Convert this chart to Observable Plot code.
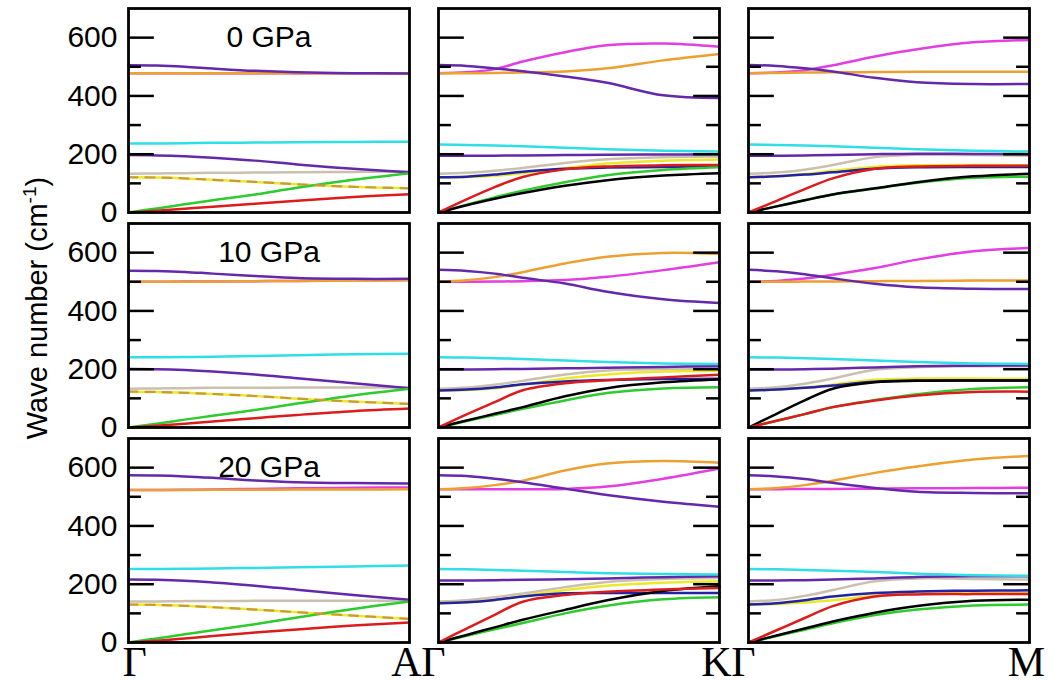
<!DOCTYPE html>
<html>
<head>
<meta charset="utf-8">
<script src="https://cdn.jsdelivr.net/npm/d3@7"></script>
<script src="https://cdn.jsdelivr.net/npm/@observablehq/plot@0.6"></script>
<style>
  body { margin: 0; background: #fff; }
  #chart svg { display: block; }
</style>
</head>
<body>
<div id="chart"></div>
<script>
// Reduced wave-vector positions along each path (0 = Γ, 1 = zone boundary)
const qx = [0, 0.1, 0.2, 0.3, 0.45, 0.6, 0.8, 1];

const pressures = ["0 GPa", "10 GPa", "20 GPa"];
const paths = ["ΓA", "ΓK", "ΓM"];
const pathStart = ["Γ", "Γ", "Γ"];
const pathEnd = ["A", "K", "M"];

// Drawing order: later branches are painted on top
const branchNames = ["tan", "yellow", "blue", "violetLow", "cyan", "magenta", "orange", "violetHigh", "green", "black", "red"];
const branchColors = ["#cbbfae", "#eaea2c", "#2222a2", "#6428aa", "#2fdfe6", "#e23ee2", "#eda032", "#6428aa", "#2ecb2e", "#000000", "#dc1c1c"];

const yTicksMajor = [200, 400, 600];
const yTicksMinor = [100, 300, 500];
const yTickLabels = [0, 200, 400, 600];

// ---- 0 GPa (cm^-1) ----
const GA_0 = {
  tan:        [133, 134, 135, 136, 137, 138, 139, 140],
  yellow:     [121, 120, 117, 112, 105, 97, 88, 83],
  violetLow:  [197, 196, 193, 188, 178, 165, 150, 138],
  cyan:       [237, 237, 238, 239, 240, 241, 242, 243],
  magenta:    [478, 478, 478, 478, 478, 478, 478, 478],
  orange:     [478, 478, 478, 478, 478, 478, 478, 478],
  violetHigh: [505, 504, 500, 494, 486, 481, 478, 477],
  green:      [0, 14, 28, 42, 62, 85, 112, 135],
  red:        [0, 6, 13, 20, 30, 40, 53, 63]
};
const GK_0 = {
  tan:        [133, 136, 143, 153, 170, 183, 190, 192],
  yellow:     [121, 122, 126, 135, 152, 168, 178, 182],
  blue:       [121, 123, 130, 140, 150, 154, 156, 157],
  violetLow:  [195, 195, 195, 196, 197, 198, 199, 200],
  cyan:       [233, 232, 230, 227, 222, 217, 212, 209],
  orange:     [478, 478, 479, 480, 484, 495, 522, 544],
  magenta:    [478, 481, 492, 518, 550, 574, 580, 569],
  violetHigh: [506, 503, 494, 485, 467, 445, 402, 393],
  green:      [0, 27, 52, 75, 104, 128, 146, 155],
  black:      [0, 25, 47, 67, 92, 111, 127, 135],
  red:        [0, 45, 87, 122, 148, 158, 162, 163]
};
const GM_0 = {
  tan:        [133, 137, 147, 163, 190, 198, 197, 195],
  yellow:     [121, 124, 132, 143, 157, 162, 163, 162],
  blue:       [121, 124, 130, 138, 150, 155, 156, 156],
  violetLow:  [195, 195, 196, 197, 200, 202, 201, 201],
  cyan:       [233, 232, 230, 227, 222, 217, 212, 209],
  orange:     [478, 479, 480, 481, 482, 483, 483, 483],
  magenta:    [478, 480, 488, 505, 535, 560, 584, 592],
  violetHigh: [506, 503, 495, 484, 462, 447, 441, 441],
  green:      [0, 21, 42, 62, 82, 102, 119, 123],
  black:      [0, 21, 42, 62, 83, 104, 124, 133],
  red:        [0, 40, 80, 117, 150, 158, 160, 160]
};

// ---- 10 GPa ----
const GA_10 = {
  tan:        [133, 134, 135, 136, 136, 137, 137, 137],
  yellow:     [123, 122, 119, 115, 108, 99, 89, 81],
  violetLow:  [201, 200, 197, 192, 182, 169, 152, 135],
  cyan:       [241, 241, 242, 243, 245, 248, 251, 253],
  magenta:    [500, 500, 501, 501, 502, 503, 505, 506],
  orange:     [500, 500, 500, 501, 502, 503, 504, 505],
  violetHigh: [538, 537, 534, 528, 520, 513, 510, 510],
  green:      [0, 13, 27, 40, 60, 82, 110, 133],
  red:        [0, 6, 13, 21, 32, 43, 56, 65]
};
const GK_10 = {
  tan:        [133, 137, 147, 160, 182, 196, 200, 201],
  yellow:     [127, 129, 135, 147, 168, 182, 192, 195],
  blue:       [127, 130, 137, 148, 158, 163, 166, 167],
  violetLow:  [199, 199, 200, 201, 203, 205, 208, 210],
  cyan:       [241, 240, 238, 235, 230, 225, 220, 218],
  orange:     [500, 505, 516, 533, 563, 586, 599, 595],
  magenta:    [500, 500, 501, 502, 506, 517, 540, 567],
  violetHigh: [541, 537, 528, 514, 494, 466, 440, 427],
  green:      [0, 22, 43, 64, 93, 118, 134, 138],
  black:      [0, 24, 47, 70, 107, 135, 155, 165],
  red:        [0, 45, 87, 128, 152, 162, 172, 181]
};
const GM_10 = {
  tan:        [133, 138, 150, 168, 198, 207, 210, 210],
  yellow:     [127, 130, 137, 147, 164, 168, 168, 167],
  blue:       [127, 130, 136, 144, 157, 161, 161, 161],
  violetLow:  [199, 199, 200, 202, 206, 210, 212, 213],
  cyan:       [241, 240, 238, 235, 230, 225, 220, 218],
  orange:     [500, 500, 501, 501, 502, 503, 504, 504],
  magenta:    [500, 503, 511, 524, 547, 576, 605, 616],
  violetHigh: [541, 536, 526, 512, 493, 481, 476, 475],
  red:        [0, 23, 46, 70, 93, 110, 122, 123],
  green:      [0, 23, 46, 70, 94, 114, 132, 138],
  black:      [0, 47, 93, 133, 155, 160, 161, 161]
};

// ---- 20 GPa ----
const GA_20 = {
  tan:        [141, 141, 142, 142, 143, 143, 143, 143],
  yellow:     [130, 129, 126, 121, 113, 104, 92, 81],
  violetLow:  [216, 215, 212, 206, 195, 181, 163, 147],
  cyan:       [252, 252, 253, 254, 256, 258, 261, 264],
  magenta:    [523, 523, 524, 525, 527, 529, 531, 532],
  orange:     [523, 523, 523, 524, 524, 525, 525, 526],
  violetHigh: [574, 573, 570, 565, 556, 550, 547, 546],
  green:      [0, 14, 28, 42, 63, 86, 115, 141],
  red:        [0, 6, 14, 22, 34, 45, 58, 69]
};
const GK_20 = {
  tan:        [141, 145, 155, 168, 190, 208, 218, 221],
  yellow:     [135, 138, 147, 160, 180, 195, 205, 210],
  blue:       [135, 138, 146, 158, 169, 170, 170, 170],
  violetLow:  [213, 213, 214, 215, 217, 220, 224, 227],
  cyan:       [252, 251, 249, 246, 242, 238, 235, 233],
  orange:     [526, 530, 540, 555, 590, 614, 623, 617],
  magenta:    [526, 526, 526, 526, 527, 535, 562, 597],
  violetHigh: [574, 571, 562, 550, 528, 506, 483, 466],
  green:      [0, 23, 45, 67, 100, 126, 148, 155],
  black:      [0, 26, 52, 78, 112, 145, 177, 193],
  red:        [0, 48, 95, 140, 163, 174, 182, 187]
};
const GM_20 = {
  tan:        [141, 146, 160, 180, 210, 220, 218, 216],
  yellow:     [130, 132, 137, 145, 160, 167, 169, 170],
  blue:       [130, 135, 145, 158, 170, 175, 178, 179],
  violetLow:  [213, 213, 214, 216, 220, 225, 227, 227],
  cyan:       [252, 251, 249, 246, 242, 236, 231, 229],
  magenta:    [526, 526, 527, 527, 528, 529, 530, 531],
  orange:     [526, 530, 540, 555, 582, 604, 628, 640],
  violetHigh: [574, 570, 561, 548, 530, 517, 513, 512],
  green:      [0, 22, 44, 66, 94, 113, 127, 130],
  black:      [0, 24, 48, 72, 102, 125, 143, 147],
  red:        [0, 42, 84, 125, 158, 165, 166, 166]
};

const panelGrid = [
  [GA_0, GK_0, GM_0],
  [GA_10, GK_10, GM_10],
  [GA_20, GK_20, GM_20]
];

// Flatten into a long table: one row per (panel, branch, q-point)
const rows = [];
panelGrid.forEach((panelRow, r) => {
  panelRow.forEach((panel, c) => {
    for (const branch of branchNames) {
      const values = panel[branch];
      if (!values) continue;
      values.forEach((w, i) => rows.push({
        pressure: pressures[r], path: paths[c], branch, q: qx[i], w
      }));
    }
  });
});

// Inward tick marks on the panel edges (left on every panel, right on ΓK and ΓM)
const majorLen = 0.092, minorLen = 0.046;
const tickRows = [];
pressures.forEach(p => paths.forEach((path, c) => {
  const sides = c === 0 ? ["left"] : ["left", "right"];
  for (const side of sides) {
    const add = (v, len) => tickRows.push({
      pressure: p, path, v,
      x1: side === "left" ? 0 : 1 - len,
      x2: side === "left" ? len : 1
    });
    yTicksMajor.forEach(v => add(v, majorLen));
    yTicksMinor.forEach(v => add(v, minorLen));
  }
}));

const pressureLabels = pressures.map(p => ({pressure: p, path: paths[0], q: 0.5, label: p}));
const startLabels = paths.map((path, c) => ({pressure: pressures[2], path, q: 0, label: pathStart[c], first: c === 0}));
const endLabels = paths.map((path, c) => ({pressure: pressures[2], path, q: 1, label: pathEnd[c]}));

const facetOpts = {fx: "path", fy: "pressure"};
const serif = "'Liberation Serif', 'Times New Roman', serif";
const symbolSize = 42;

const chart = Plot.plot({
  width: 1058,
  height: 683,
  marginTop: 8,
  marginBottom: 40,
  marginLeft: 127,
  marginRight: 28,
  style: {fontFamily: "'Liberation Sans', Arial, sans-serif", background: "#fff", color: "#000"},
  fx: {domain: paths, paddingInner: 0.095, paddingOuter: 0, axis: null},
  fy: {domain: pressures, paddingInner: 0.051, paddingOuter: 0, axis: null},
  x: {domain: [0, 1], axis: null},
  y: {domain: [0, 700]},
  color: {domain: branchNames, range: branchColors},
  marks: [
    Plot.line(rows, {...facetOpts, x: "q", y: "w", z: "branch", stroke: "branch", strokeWidth: 2.5, curve: "catmull-rom"}),
    Plot.line(rows.filter(d => d.path === paths[0] && d.branch === "yellow"),
      {...facetOpts, x: "q", y: "w", stroke: "#c99a3a", strokeWidth: 2.2, strokeDasharray: "9,8", curve: "catmull-rom"}),
    Plot.ruleY(tickRows, {...facetOpts, y: "v", x1: "x1", x2: "x2", stroke: "#000", strokeWidth: 2.5}),
    Plot.frame({stroke: "#000", strokeWidth: 2.8}),
    Plot.axisY({anchor: "left", ticks: yTickLabels, tickSize: 0, tickPadding: 11, fontSize: 30, label: null}),
    Plot.text(pressureLabels, {...facetOpts, x: "q", frameAnchor: "top", lineAnchor: "bottom", dy: 38,
      text: "label", fontSize: 30, fill: "#000"}),
    Plot.text(startLabels.filter(d => d.first), {...facetOpts, x: "q", frameAnchor: "bottom", lineAnchor: "bottom",
      dy: 33, dx: -6, textAnchor: "start", text: "label", fontSize: symbolSize, fontFamily: serif, fill: "#000"}),
    Plot.text(startLabels.filter(d => !d.first), {...facetOpts, x: "q", frameAnchor: "bottom", lineAnchor: "bottom",
      dy: 33, dx: 7, textAnchor: "end", text: "label", fontSize: symbolSize, fontFamily: serif, fill: "#000"}),
    Plot.text(endLabels, {...facetOpts, x: "q", frameAnchor: "bottom", lineAnchor: "bottom",
      dy: 33, dx: -3, textAnchor: "middle", text: "label", fontSize: symbolSize, fontFamily: serif, fill: "#000"})
  ]
});

// Rotated y-axis title with a superscript unit exponent
const svg = d3.select(chart);
const title = svg.append("text")
  .attr("transform", "translate(47,308) rotate(-90)")
  .attr("text-anchor", "middle")
  .attr("font-size", 29)
  .attr("fill", "#000");
title.append("tspan").text("Wave number (cm");
title.append("tspan").attr("dy", -11).attr("font-size", 19).text("-1");
title.append("tspan").attr("dy", 11).text(")");

document.getElementById("chart").append(chart);
</script>
</body>
</html>
